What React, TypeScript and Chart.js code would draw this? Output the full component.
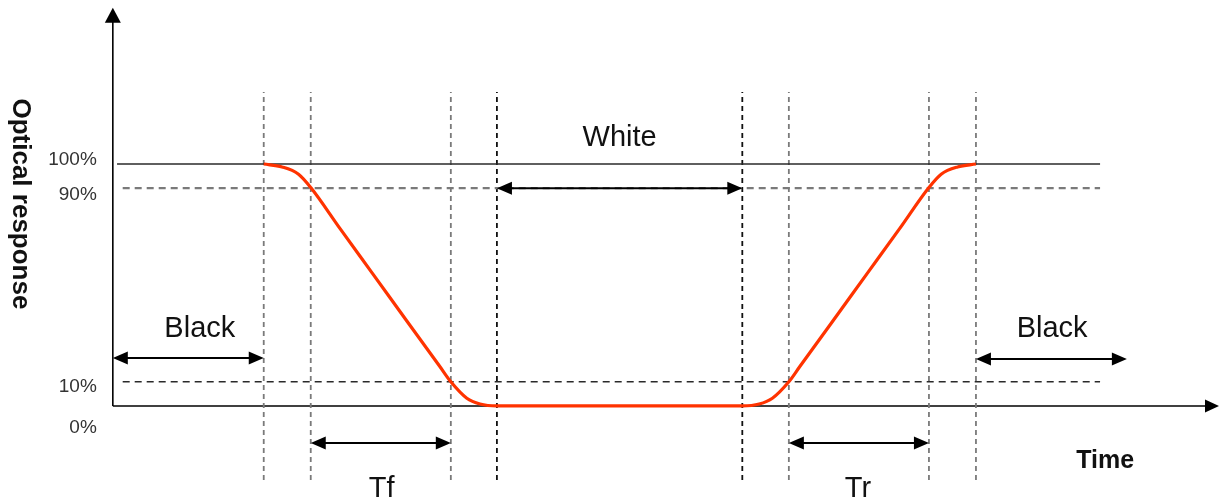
import React, { useEffect, useRef } from "react";
import { Chart, registerables } from "chart.js";

Chart.register(...registerables);

// ---- data (time in arbitrary units, response in %) ----
const curveTime = [3.21, 3.6, 3.95, 4.21, 4.83, 5.53, 6.25, 6.96, 7.19, 7.53, 7.81, 8.17, 13.39, 13.75, 14.03, 14.38, 14.61, 15.32, 16.04, 16.74, 17.36, 17.62, 17.97, 18.36];
const curveResponse = [100, 98.8, 95.8, 90.3, 73.4, 54.6, 35.2, 16.2, 10.0, 3.2, 0.8, 0, 0, 0.8, 3.2, 10.0, 16.2, 35.2, 54.6, 73.4, 90.3, 95.8, 98.8, 100];

const eventTimes = [3.21, 4.21, 7.19, 8.17, 13.39, 14.38, 17.36, 18.36];
const eventDark = [false, false, false, true, true, false, false, false];
const eventRange = [-30.6, 129.8];

const levelValues = [100, 90, 10];
const levelStart = [0.09, 0.21, 0.21];
const levelEnd = 21.0;

const tickLabels = ["100%", "90%", "10%", "0%"];
const tickLabelAt = [101.7, 87.2, 7.9, -9.1];

const spanLabels = ["Black", "White", "Tf", "Tr", "Black"];
const spanFrom = [0, 8.17, 4.21, 14.38, 18.36];
const spanTo = [3.21, 13.39, 7.19, 17.36, 21.57];
const spanLevel = [19.8, 90, -15.3, -15.3, 19.4];
const spanLabelTime = [1.85, 10.78, 5.72, 15.85, 19.98];
const spanLabelBaseline = [28.5, 107.4, -37.6, -37.6, 28.5];

const axisTitleX = "Time";
const axisTitleY = "Optical response";

const xMin = -2.4;
const xMax = 23.53;
const yMin = -39.7;
const yMax = 167.8;
const yAxisTop = 164.6;

const FONT = "'Liberation Sans', Arial, sans-serif";

function head(ctx: CanvasRenderingContext2D, x: number, y: number, dir: number, len: number, half: number) {
  ctx.beginPath();
  ctx.moveTo(x, y);
  ctx.lineTo(x - dir * len, y - half);
  ctx.lineTo(x - dir * len, y + half);
  ctx.closePath();
  ctx.fill();
}

const diagramPlugin = {
  id: "diagram",
  beforeDatasetsDraw(chart: any) {
    const ctx: CanvasRenderingContext2D = chart.ctx;
    const xs = chart.scales.x;
    const ys = chart.scales.y;
    ctx.save();
    ctx.fillStyle = "#000";
    ctx.strokeStyle = "#000";
    const ax = xs.getPixelForValue(0);
    const y0 = ys.getPixelForValue(0);
    const yTop = ys.getPixelForValue(yAxisTop);
    ctx.lineWidth = 1.6;
    ctx.beginPath();
    ctx.moveTo(ax, y0);
    ctx.lineTo(ax, yTop + 10);
    ctx.stroke();
    ctx.beginPath();
    ctx.moveTo(ax, yTop);
    ctx.lineTo(ax - 8, yTop + 15);
    ctx.lineTo(ax + 8, yTop + 15);
    ctx.closePath();
    ctx.fill();
    const xEnd = xs.getPixelForValue(xMax);
    ctx.beginPath();
    ctx.moveTo(ax, y0);
    ctx.lineTo(xEnd - 10, y0);
    ctx.stroke();
    head(ctx, xEnd, y0, 1, 14, 6.5);
    ctx.restore();
  },
  afterDatasetsDraw(chart: any) {
    const ctx: CanvasRenderingContext2D = chart.ctx;
    const xs = chart.scales.x;
    const ys = chart.scales.y;
    ctx.save();
    ctx.fillStyle = "#000";
    ctx.strokeStyle = "#000";
    ctx.lineWidth = 2;
    for (let i = 0; i < spanLabels.length; i++) {
      const x1 = xs.getPixelForValue(spanFrom[i]);
      const x2 = xs.getPixelForValue(spanTo[i]);
      const y = ys.getPixelForValue(spanLevel[i]);
      ctx.beginPath();
      ctx.moveTo(x1 + 8, y);
      ctx.lineTo(x2 - 8, y);
      ctx.stroke();
      head(ctx, x1, y, -1, 15, 6.5);
      head(ctx, x2, y, 1, 15, 6.5);
      ctx.font = `29px ${FONT}`;
      ctx.textAlign = "center";
      ctx.textBaseline = "alphabetic";
      ctx.fillStyle = "#111";
      ctx.fillText(spanLabels[i], xs.getPixelForValue(spanLabelTime[i]), ys.getPixelForValue(spanLabelBaseline[i]));
      ctx.fillStyle = "#000";
    }
    ctx.font = `19px ${FONT}`;
    ctx.textAlign = "right";
    ctx.textBaseline = "middle";
    ctx.fillStyle = "#333";
    const tx = xs.getPixelForValue(0) - 16;
    tickLabels.forEach((t, i) => ctx.fillText(t, tx, ys.getPixelForValue(tickLabelAt[i])));
    ctx.fillStyle = "#111";
    ctx.font = `bold 25px ${FONT}`;
    ctx.textAlign = "center";
    ctx.textBaseline = "alphabetic";
    ctx.fillText(axisTitleX, xs.getPixelForValue(21.11), ys.getPixelForValue(-25.6));
    ctx.save();
    ctx.translate(20, ys.getPixelForValue(83.5));
    ctx.rotate(Math.PI / 2);
    ctx.textBaseline = "middle";
    ctx.font = `bold 26px ${FONT}`;
    ctx.fillText(axisTitleY, 0, 0);
    ctx.restore();
    ctx.restore();
  },
};

export default function App() {
  const ref = useRef<HTMLCanvasElement>(null);
  useEffect(() => {
    if (!ref.current) return;
    const datasets: any[] = [
      {
        label: "response",
        data: curveTime.map((t, i) => ({ x: t, y: curveResponse[i] })),
        borderColor: "#ff3300",
        borderWidth: 3.2,
        pointRadius: 0,
        cubicInterpolationMode: "monotone",
        fill: false,
        order: 0,
      },
    ];
    levelValues.forEach((v, i) => {
      datasets.push({
        label: "level" + v,
        data: [
          { x: levelStart[i], y: v },
          { x: levelEnd, y: v },
        ],
        borderColor: i === 1 ? "#7a7a7a" : "#2a2a2a",
        borderWidth: i === 1 ? 2.2 : 1.6,
        borderDash: i === 0 ? [] : [7, 5],
        pointRadius: 0,
        fill: false,
        order: 2,
      });
    });
    eventTimes.forEach((t, i) => {
      datasets.push({
        label: "event" + i,
        data: [
          { x: t, y: eventRange[0] },
          { x: t, y: eventRange[1] },
        ],
        borderColor: eventDark[i] ? "#111" : "#7a7a7a",
        borderWidth: 1.8,
        borderDash: [5, 4],
        pointRadius: 0,
        fill: false,
        order: 3,
      });
    });
    const chart = new Chart(ref.current, {
      type: "line",
      data: { datasets },
      options: {
        animation: false,
        responsive: false,
        layout: { padding: 0 },
        plugins: { legend: { display: false }, tooltip: { enabled: false } },
        scales: {
          x: { type: "linear", min: xMin, max: xMax, display: false },
          y: { type: "linear", min: yMin, max: yMax, display: false },
        },
      },
      plugins: [diagramPlugin],
    } as any);
    return () => chart.destroy();
  }, []);
  return (
    <div style={{ position: "fixed", left: 0, top: 0, width: 1219, height: 502, background: "#fff" }}>
      <canvas ref={ref} width={1219} height={502} style={{ width: 1219, height: 502 }} />
    </div>
  );
}
